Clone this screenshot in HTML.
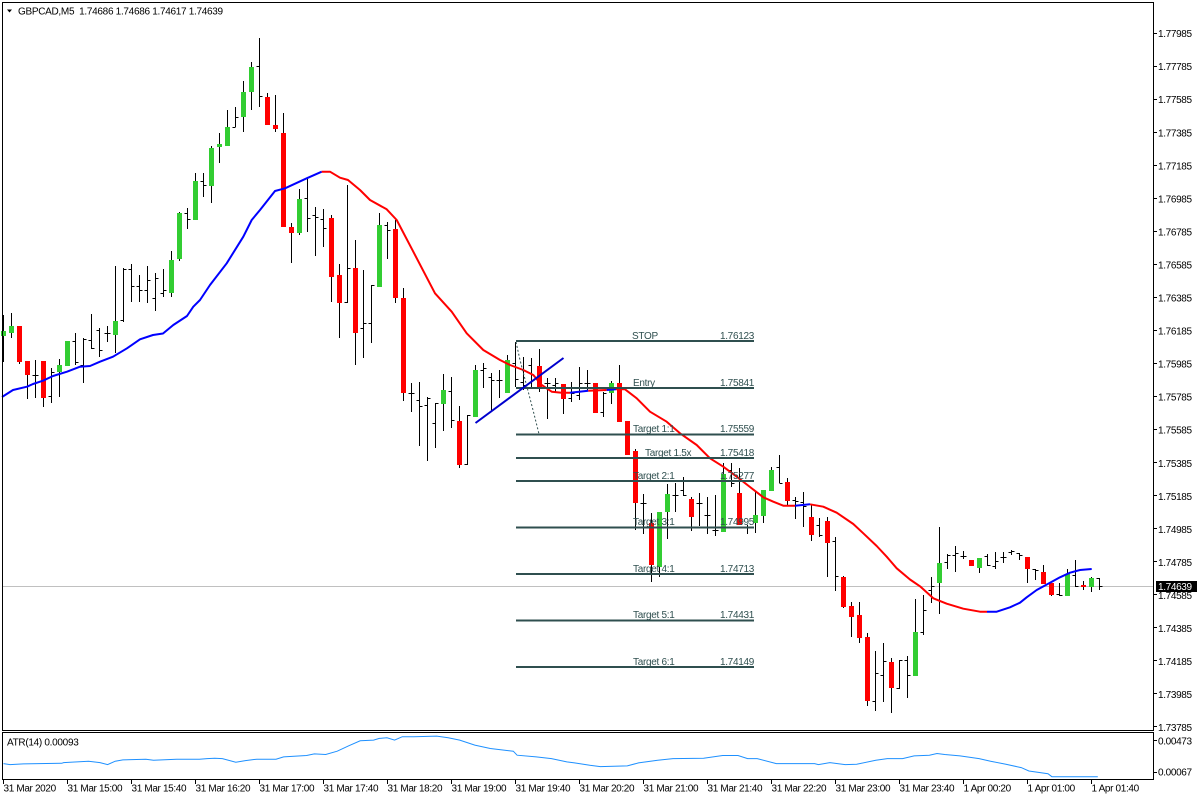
<!DOCTYPE html>
<html><head><meta charset="utf-8"><style>
html,body{margin:0;padding:0;background:#fff;}
svg{display:block;}
text{font-family:"Liberation Sans",Arial,sans-serif;font-size:10px;letter-spacing:-0.35px;fill:#000;}
.obj{fill:#2F4F4F;letter-spacing:-0.3px;}
</style></head><body>
<svg width="1200" height="800" viewBox="0 0 1200 800" xmlns="http://www.w3.org/2000/svg">
<rect x="0" y="0" width="1200" height="800" fill="#fff"/>
<!-- current price line -->
<line x1="2" y1="586.5" x2="1153" y2="586.5" stroke="#C0C0C0" stroke-width="1" shape-rendering="crispEdges"/>
<!-- candles wicks / bars -->
<path shape-rendering="crispEdges" stroke="#000" stroke-width="1" fill="none" d="
M3.5 315V362 M11.5 313V338 M19.5 326V364 M27.5 361V399
M35.5 360V398 M32.5 375.5h3 M35.5 375.5h3
M43.5 361V407
M51.5 368V403 M48.5 396.5h3 M51.5 372.5h3
M59.5 359V397 M67.5 341V366
M75.5 333V365 M72.5 341.5h3 M75.5 362.5h3
M83.5 338V383 M80.5 365.5h3 M83.5 339.5h3
M91.5 314V349 M88.5 340.5h3 M91.5 348.5h3
M99.5 328V357 M96.5 330.5h3 M99.5 350.5h3
M107.5 326V342 M104.5 333.5h3 M107.5 333.5h3
M115.5 266V353
M123.5 268V322 M120.5 320.5h3 M123.5 269.5h3
M131.5 264V302 M128.5 269.5h3 M131.5 286.5h3
M139.5 275V302 M136.5 286.5h3 M139.5 290.5h3
M147.5 266V303 M144.5 290.5h3 M147.5 280.5h3
M155.5 273V311 M152.5 298.5h3 M155.5 278.5h3
M163.5 269V297 M160.5 293.5h3 M163.5 290.5h3
M171.5 251V297 M179.5 212V261
M187.5 208V229 M184.5 213.5h3 M187.5 219.5h3
M195.5 173V220
M203.5 173V197 M200.5 181.5h3 M203.5 185.5h3
M211.5 146V203 M219.5 133V163 M227.5 110V146
M235.5 107V127 M232.5 127.5h3 M235.5 117.5h3
M243.5 81V132 M251.5 62V110
M259.5 38V107 M256.5 66.5h3 M259.5 96.5h3
M267.5 93V125 M275.5 95V132 M283.5 113V227 M291.5 223V263 M299.5 189V235
M307.5 178V232 M304.5 198.5h3 M307.5 218.5h3
M315.5 207V256 M312.5 215.5h3 M315.5 217.5h3
M323.5 209V247 M320.5 219.5h3 M323.5 228.5h3
M331.5 215V302 M339.5 264V338
M347.5 185V303 M344.5 302.5h3 M347.5 268.5h3
M355.5 240V365
M363.5 270V358 M360.5 328.5h3 M363.5 323.5h3
M371.5 285V343 M368.5 323.5h3 M371.5 285.5h3
M379.5 213V287
M387.5 222V259 M384.5 225.5h3 M387.5 230.5h3
M395.5 220V303 M403.5 288V401
M411.5 383V412 M408.5 393.5h3 M411.5 393.5h3
M419.5 382V446 M416.5 400.5h3 M419.5 406.5h3
M427.5 397V461 M424.5 405.5h3 M427.5 398.5h3
M435.5 403V448 M432.5 423.5h3 M435.5 403.5h3
M443.5 374V431
M451.5 377V428 M448.5 391.5h3 M451.5 420.5h3
M459.5 406V468
M467.5 415V465 M464.5 464.5h3 M467.5 415.5h3
M475.5 365V417
M483.5 363V388 M480.5 370.5h3 M483.5 368.5h3
M491.5 373V412 M488.5 377.5h3 M491.5 380.5h3
M499.5 370V398 M496.5 380.5h3 M499.5 380.5h3
M507.5 355V393
M515.5 342V387 M512.5 363.5h3 M515.5 379.5h3
M523.5 357V390 M520.5 382.5h3 M523.5 385.5h3
M531.5 358V387 M528.5 365.5h3 M531.5 380.5h3
M539.5 349V392
M547.5 378V419 M544.5 383.5h3 M547.5 383.5h3
M555.5 378V392 M552.5 385.5h3 M555.5 383.5h3
M563.5 384V414
M571.5 382V402 M568.5 398.5h3 M571.5 393.5h3
M579.5 367V400 M576.5 395.5h3 M579.5 383.5h3
M587.5 370V390 M584.5 383.5h3 M587.5 383.5h3
M595.5 383V413
M603.5 392V417 M600.5 412.5h3 M603.5 393.5h3
M611.5 381V404 M619.5 365V422 M627.5 421V455 M635.5 449V530
M643.5 494V534 M640.5 503.5h3 M643.5 503.5h3
M651.5 513V582 M659.5 512V577 M667.5 484V539
M675.5 483V512 M672.5 495.5h3 M675.5 495.5h3
M683.5 477V496 M680.5 490.5h3 M683.5 495.5h3
M691.5 497V531
M699.5 493V526 M696.5 503.5h3 M699.5 503.5h3
M707.5 497V534 M704.5 515.5h3 M707.5 515.5h3
M715.5 495V536 M712.5 530.5h3 M715.5 530.5h3
M723.5 463V532
M731.5 463V487 M728.5 470.5h3 M731.5 483.5h3
M739.5 468V525
M747.5 525V534 M744.5 527.5h3 M747.5 527.5h3
M755.5 492V533 M763.5 490V523 M771.5 467V491
M779.5 455V483 M776.5 467.5h3 M779.5 483.5h3
M787.5 478V505
M795.5 497V519 M792.5 500.5h3 M795.5 501.5h3
M803.5 492V527 M800.5 502.5h3 M803.5 506.5h3
M811.5 505V541
M819.5 518V537 M816.5 525.5h3 M819.5 535.5h3
M827.5 517V577
M835.5 537V591 M832.5 541.5h3 M835.5 576.5h3
M843.5 576V608 M851.5 602V637 M859.5 602V643 M867.5 633V706
M875.5 651V711 M872.5 701.5h3 M875.5 673.5h3
M883.5 643V702 M880.5 675.5h3 M883.5 661.5h3
M891.5 658V713
M899.5 660V689 M896.5 688.5h3 M899.5 660.5h3
M907.5 656V698 M904.5 660.5h3 M907.5 675.5h3
M915.5 599V676
M923.5 595V635 M920.5 632.5h3 M923.5 610.5h3
M931.5 577V603 M928.5 590.5h3 M931.5 586.5h3
M939.5 527V614
M947.5 554V569 M944.5 562.5h3 M947.5 555.5h3
M955.5 546V572 M952.5 555.5h3 M955.5 553.5h3
M963.5 551V559 M960.5 556.5h3 M963.5 556.5h3
M971.5 560V566 M979.5 558V573
M987.5 554V566 M984.5 556.5h3 M987.5 565.5h3
M995.5 552V569 M992.5 566.5h3 M995.5 561.5h3
M1003.5 552V563 M1000.5 557.5h3 M1003.5 557.5h3
M1011.5 550V555 M1008.5 552.5h3 M1011.5 551.5h3
M1019.5 553V560 M1016.5 553.5h3 M1019.5 555.5h3
M1027.5 557V583
M1035.5 569V580 M1032.5 569.5h3 M1035.5 570.5h3
M1043.5 565V584 M1051.5 583V596
M1059.5 583V596 M1056.5 594.5h3 M1059.5 595.5h3
M1067.5 569V596
M1075.5 560V587 M1072.5 575.5h3 M1075.5 586.5h3
M1083.5 581V590 M1091.5 577V592
M1099.5 578V590 M1096.5 578.5h3 M1099.5 586.5h3
"/>
<!-- green bodies -->
<g fill="#32CD32" shape-rendering="crispEdges">
<rect x="1" y="331" width="5" height="5"/>
<rect x="9" y="326" width="5" height="7"/>
<rect x="57" y="365" width="5" height="7"/>
<rect x="65" y="341" width="5" height="25"/>
<rect x="113" y="321" width="5" height="14"/>
<rect x="169" y="260" width="5" height="33"/>
<rect x="177" y="213" width="5" height="46"/>
<rect x="193" y="181" width="5" height="39"/>
<rect x="209" y="148" width="5" height="38"/>
<rect x="217" y="144" width="5" height="3"/>
<rect x="225" y="127" width="5" height="19"/>
<rect x="241" y="92" width="5" height="25"/>
<rect x="249" y="67" width="5" height="25"/>
<rect x="297" y="199" width="5" height="34"/>
<rect x="377" y="225" width="5" height="62"/>
<rect x="441" y="390" width="5" height="14"/>
<rect x="473" y="370" width="5" height="47"/>
<rect x="505" y="360" width="5" height="33"/>
<rect x="609" y="383" width="5" height="10"/>
<rect x="657" y="512" width="5" height="55"/>
<rect x="665" y="494" width="5" height="18"/>
<rect x="721" y="474" width="5" height="58"/>
<rect x="753" y="515" width="5" height="8"/>
<rect x="761" y="490" width="5" height="26"/>
<rect x="769" y="470" width="5" height="21"/>
<rect x="913" y="632" width="5" height="44"/>
<rect x="937" y="563" width="5" height="20"/>
<rect x="977" y="558" width="5" height="10"/>
<rect x="1065" y="574" width="5" height="22"/>
<rect x="1089" y="578" width="5" height="9"/>
</g>
<!-- red bodies -->
<g fill="#FF0000" shape-rendering="crispEdges">
<rect x="17" y="326" width="5" height="36"/>
<rect x="25" y="361" width="5" height="14"/>
<rect x="41" y="361" width="5" height="37"/>
<rect x="265" y="97" width="5" height="28"/>
<rect x="273" y="125" width="5" height="4"/>
<rect x="281" y="133" width="5" height="94"/>
<rect x="289" y="227" width="5" height="6"/>
<rect x="329" y="218" width="5" height="59"/>
<rect x="337" y="275" width="5" height="28"/>
<rect x="353" y="268" width="5" height="65"/>
<rect x="393" y="229" width="5" height="69"/>
<rect x="401" y="298" width="5" height="95"/>
<rect x="457" y="421" width="5" height="44"/>
<rect x="537" y="366" width="5" height="21"/>
<rect x="561" y="384" width="5" height="15"/>
<rect x="593" y="383" width="5" height="30"/>
<rect x="617" y="383" width="5" height="39"/>
<rect x="625" y="421" width="5" height="34"/>
<rect x="633" y="451" width="5" height="52"/>
<rect x="649" y="523" width="5" height="42"/>
<rect x="689" y="499" width="5" height="18"/>
<rect x="737" y="493" width="5" height="32"/>
<rect x="785" y="482" width="5" height="19"/>
<rect x="809" y="517" width="5" height="18"/>
<rect x="825" y="521" width="5" height="22"/>
<rect x="841" y="577" width="5" height="30"/>
<rect x="849" y="606" width="5" height="11"/>
<rect x="857" y="615" width="5" height="23"/>
<rect x="865" y="637" width="5" height="64"/>
<rect x="889" y="662" width="5" height="26"/>
<rect x="969" y="560" width="5" height="6"/>
<rect x="1025" y="557" width="5" height="12"/>
<rect x="1041" y="572" width="5" height="12"/>
<rect x="1049" y="583" width="5" height="12"/>
<rect x="1081" y="585" width="5" height="2"/>
</g>
<!-- moving average -->
<g fill="none" stroke-width="2" stroke-linejoin="round">
<polyline stroke="#0000FF" points="2,397 13,390 27,386.7 33,384 43,380.7 53,376 67,371.7 80,366.7 90,366 100,361.7 113,356.7 127,348.3 140,339.3 153,335 163,333.5 173.3,325 187,316 193.3,306.7 200,300 210,285 226.7,263.3 243.3,236.7 251.7,220 260,210 275,191 285,188.3 306.7,178.3 321.7,171.7"/>
<polyline stroke="#FF0000" points="321.7,171.7 330,171.7 340,177.7 348,180 360,190 370,200 386.7,209.3 396.7,220 413.3,251.7 435,293.3 451.7,311.7 466.7,333.3 483.3,350 500,360 510,365 523.3,370 533.3,375 541.7,385 551.7,391.7 561.7,392.7 570,392.7"/>
<polyline stroke="#0000FF" points="570,392.7 588.3,390.7"/>
<polyline stroke="#FF0000" points="588.3,390.7 606.7,390"/>
<polyline stroke="#0000FF" points="606.7,390 616,389.3"/>
<polyline stroke="#FF0000" points="616,389.3 625,389.3 636.7,398.3 650,411.7 666.7,421.7 680,433.3 696.7,445 710,458.3 723.3,466.7 736.7,476.7 750,487 763.3,497.3 773.3,501.7 783.3,505.7 795,505.7"/>
<polyline stroke="#0000FF" points="795,505.7 810,504.3"/>
<polyline stroke="#FF0000" points="810,504.3 823.3,506.7 836.7,512.7 853.3,524 863.3,533.3 876.7,546 886.7,556.7 896.7,568.3 910,579.5 920,586.3 933.3,598.3 946.7,603.7 963.3,608.7 980,611.7 987,611.7"/>
<polyline stroke="#0000FF" points="987,611.7 996.7,611.7 1010,607.3 1020,602.7 1026.7,597.3 1036.7,590 1050,582.7 1060,577.3 1070,572.7 1080,570 1091.7,569"/>
</g>
<!-- trade objects -->
<g stroke="#2F4F4F" stroke-width="2" shape-rendering="crispEdges">
<line x1="516" y1="341" x2="754" y2="341"/>
<line x1="516" y1="388" x2="754" y2="388"/>
<line x1="516" y1="434.5" x2="754" y2="434.5"/>
<line x1="516" y1="458" x2="754" y2="458"/>
<line x1="516" y1="481" x2="754" y2="481"/>
<line x1="516" y1="527.5" x2="754" y2="527.5"/>
<line x1="516" y1="574" x2="754" y2="574"/>
<line x1="516" y1="620.5" x2="754" y2="620.5"/>
<line x1="516" y1="667" x2="754" y2="667"/>
</g>
<polyline fill="none" stroke="#2F4F4F" stroke-width="1" stroke-dasharray="2,2" points="516,342 520,360 527,387 533,410 539,434"/>
<line x1="475.5" y1="423" x2="563.5" y2="358" stroke="#0000CD" stroke-width="2"/>
<g class="objt">
<text class="obj" x="632" y="339">STOP</text>
<text class="obj" x="633" y="386">Entry</text>
<text class="obj" x="633" y="432">Target 1:1</text>
<text class="obj" x="645" y="456">Target 1.5x</text>
<text class="obj" x="633" y="479">Target 2:1</text>
<text class="obj" x="633" y="525">Target 3:1</text>
<text class="obj" x="633" y="572">Target 4:1</text>
<text class="obj" x="633" y="618">Target 5:1</text>
<text class="obj" x="633" y="665">Target 6:1</text>
<text class="obj" x="754" y="339" text-anchor="end">1.76123</text>
<text class="obj" x="754" y="386" text-anchor="end">1.75841</text>
<text class="obj" x="754" y="432" text-anchor="end">1.75559</text>
<text class="obj" x="754" y="456" text-anchor="end">1.75418</text>
<text class="obj" x="754" y="479" text-anchor="end">1.75277</text>
<text class="obj" x="754" y="525" text-anchor="end">1.74995</text>
<text class="obj" x="754" y="572" text-anchor="end">1.74713</text>
<text class="obj" x="754" y="618" text-anchor="end">1.74431</text>
<text class="obj" x="754" y="665" text-anchor="end">1.74149</text>
</g>
<!-- ATR line -->
<polyline fill="none" stroke="#1E90FF" stroke-width="1" points="3.5,763.6 10,764.6 23.4,763.9 61.7,763.3 63.6,762.6 88.5,761.2 100,762.6 107.6,764.6 115.2,761.2 122.9,759.9 145.9,759.2 153.5,760.2 176.5,759.2 199.4,759.2 207.1,758.6 214.7,758.2 222.4,758.6 235.8,762.2 245.4,760.6 256.8,759.2 276,759.2 283.6,756.9 306.6,755.5 314.3,753.9 325.7,754.5 337.2,751.2 348.7,745.8 360.2,740.8 373.6,740.1 379.3,738.4 387,737.8 394.6,740.1 402.3,736.7 413.8,736.7 436.7,736.1 448.2,737.8 459.7,740.1 474.8,745.1 490.3,748.5 513.3,751.2 517.1,755.2 536.2,756.9 551.5,758.6 566.8,761.9 574.5,762.9 589.8,765.3 600.3,766.6 627.3,765.9 638.5,762.9 657.7,760.2 673,758.6 703.6,758.2 722.7,755.5 738,755.5 747.6,758.6 757.2,758.6 776.3,763.6 814.6,763.6 818.4,764.6 829.9,762.6 845.2,764.6 856.7,764.3 875.8,760.2 887.3,758.6 902.6,758.6 914.1,755.9 929.4,755.2 937,753.5 944.7,754.5 960,755.9 979.1,758.6 990.6,761.2 1005.9,764.3 1021.2,767.6 1028.9,771 1048,773.7 1051.9,776.7 1097.8,776.7"/>
<!-- frames -->
<g fill="none" stroke="#000" stroke-width="1" shape-rendering="crispEdges">
<rect x="2.5" y="2.5" width="1151" height="728"/>
<rect x="2.5" y="732.5" width="1151" height="47"/>
</g>
<!-- price axis ticks -->
<path shape-rendering="crispEdges" stroke="#000" stroke-width="1" d="M1154 33.5h3 M1154 66.5h3 M1154 99.5h3 M1154 132.5h3 M1154 165.5h3 M1154 198.5h3 M1154 231.5h3 M1154 264.5h3 M1154 297.5h3 M1154 330.5h3 M1154 363.5h3 M1154 396.5h3 M1154 429.5h3 M1154 462.5h3 M1154 495.5h3 M1154 528.5h3 M1154 561.5h3 M1154 594.5h3 M1154 627.5h3 M1154 660.5h3 M1154 693.5h3 M1154 726.5h3 M1154 740.5h3 M1154 772.5h3
M3.5 780V784 M67.5 780V784 M131.5 780V784 M195.5 780V784 M259.5 780V784 M323.5 780V784 M387.5 780V784 M451.5 780V784 M515.5 780V784 M579.5 780V784 M643.5 780V784 M707.5 780V784 M771.5 780V784 M835.5 780V784 M899.5 780V784 M963.5 780V784 M1027.5 780V784 M1091.5 780V784"/>
<g>
<text x="1158" y="37.2">1.77985</text>
<text x="1158" y="70.2">1.77785</text>
<text x="1158" y="103.2">1.77585</text>
<text x="1158" y="136.3">1.77385</text>
<text x="1158" y="169.3">1.77185</text>
<text x="1158" y="202.4">1.76985</text>
<text x="1158" y="235.4">1.76785</text>
<text x="1158" y="268.5">1.76585</text>
<text x="1158" y="301.5">1.76385</text>
<text x="1158" y="334.6">1.76185</text>
<text x="1158" y="367.6">1.75985</text>
<text x="1158" y="400.7">1.75785</text>
<text x="1158" y="433.7">1.75585</text>
<text x="1158" y="466.8">1.75385</text>
<text x="1158" y="499.8">1.75185</text>
<text x="1158" y="532.9">1.74985</text>
<text x="1158" y="565.9">1.74785</text>
<text x="1158" y="599">1.74585</text>
<text x="1158" y="632">1.74385</text>
<text x="1158" y="665.1">1.74185</text>
<text x="1158" y="698.1">1.73985</text>
<text x="1158" y="731.2">1.73785</text>
<text x="1158" y="744.3">0.00473</text>
<text x="1158" y="775.6">0.00067</text>
</g>
<rect x="1156" y="581" width="41" height="11" fill="#000"/>
<text x="1158" y="590.2" style="fill:#fff">1.74639</text>
<!-- time axis -->
<g>
<text x="3.5" y="791.5">31 Mar 2020</text>
<text x="67.5" y="791.5">31 Mar 15:00</text>
<text x="131.5" y="791.5">31 Mar 15:40</text>
<text x="195.5" y="791.5">31 Mar 16:20</text>
<text x="259.5" y="791.5">31 Mar 17:00</text>
<text x="323.5" y="791.5">31 Mar 17:40</text>
<text x="387.5" y="791.5">31 Mar 18:20</text>
<text x="451.5" y="791.5">31 Mar 19:00</text>
<text x="515.5" y="791.5">31 Mar 19:40</text>
<text x="579.5" y="791.5">31 Mar 20:20</text>
<text x="643.5" y="791.5">31 Mar 21:00</text>
<text x="707.5" y="791.5">31 Mar 21:40</text>
<text x="771.5" y="791.5">31 Mar 22:20</text>
<text x="835.5" y="791.5">31 Mar 23:00</text>
<text x="899.5" y="791.5">31 Mar 23:40</text>
<text x="963.5" y="791.5">1 Apr 00:20</text>
<text x="1027.5" y="791.5">1 Apr 01:00</text>
<text x="1091.5" y="791.5">1 Apr 01:40</text>
</g>
<!-- titles -->
<polygon points="7,9.5 12,9.5 9.5,12.5" fill="#000"/>
<text x="18" y="14.3" style="letter-spacing:-0.3px">GBPCAD,M5&#160;&#160;1.74686 1.74686 1.74617 1.74639</text>
<text x="7" y="745.3" style="letter-spacing:-0.3px">ATR(14) 0.00093</text>
</svg>
</body></html>
